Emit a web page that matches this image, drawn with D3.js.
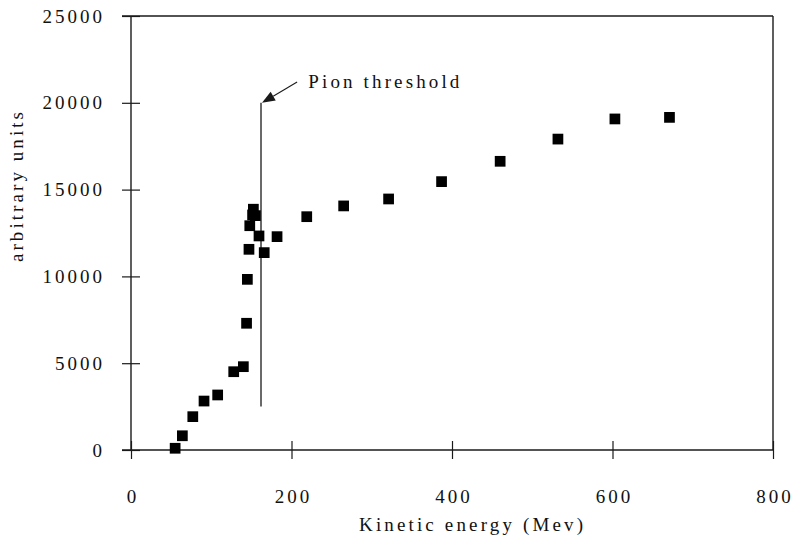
<!DOCTYPE html>
<html>
<head>
<meta charset="utf-8">
<script src="https://cdn.jsdelivr.net/npm/d3@7"></script>
<style>
  html, body { margin: 0; padding: 0; background: #fff; }
  svg { display: block; }
  text { font-family: "Liberation Serif", "Times New Roman", serif; fill: #111; }
</style>
</head>
<body>
<svg id="chart" width="793" height="540"></svg>
<script>
// Measured yield versus kinetic energy (MeV)
const energy = [55, 64, 77, 91, 108, 128, 140, 144, 145, 147, 148, 151.5, 152.5, 155, 159.5, 166, 182, 219, 265, 321, 387, 460, 532, 603, 671];
const counts = [100, 820, 1920, 2820, 3170, 4510, 4800, 7300, 9830, 11560, 12920, 13540, 13870, 13500, 12330, 11370, 12290, 13440, 14060, 14460, 15460, 16630, 17910, 19070, 19160];

const xTicks = [0, 200, 400, 600, 800];
const yTicks = [0, 5000, 10000, 15000, 20000, 25000];

// Threshold marker and its annotation (data units)
const thresholdEnergy = 162;
const thresholdRange = [2500, 20000];
const arrowFrom = [207, 21200];
const labelText = "Pion threshold";
const labelAt = [221, 20870];

const svg = d3.select("#chart");
const plotLeft = 131, plotRight = 773, plotTop = 16, plotBottom = 450;
const ink = "#1a1a1a";

const x = d3.scaleLinear().domain([0, 800]).range([plotLeft, plotRight]);
const y = d3.scaleLinear().domain([0, 25000]).range([plotBottom, plotTop]);

// Frame: top and right edges
svg.append("line").attr("x1", plotLeft - 9).attr("x2", plotRight).attr("y1", plotTop).attr("y2", plotTop)
  .attr("stroke", ink).attr("stroke-width", 1.4);
svg.append("line").attr("x1", plotRight).attr("x2", plotRight).attr("y1", plotTop).attr("y2", plotBottom)
  .attr("stroke", ink).attr("stroke-width", 1.4);

// Y axis
const yAxis = svg.append("g").attr("transform", `translate(${plotLeft},0)`)
  .call(d3.axisLeft(y).tickValues(yTicks).tickSize(9).tickPadding(17).tickFormat(d3.format("d")));
yAxis.select(".domain").attr("stroke", ink).attr("stroke-width", 1.4).attr("d", `M0,${plotTop}V${plotBottom}`);
yAxis.selectAll(".tick line").attr("x1", 9).attr("stroke", ink).attr("stroke-width", 1.2);
yAxis.selectAll(".tick text").attr("font-size", 19).attr("letter-spacing", 3)
  .attr("font-family", "Liberation Serif").attr("fill", "#111");

// X axis
const xAxis = svg.append("g").attr("transform", `translate(0,${plotBottom})`)
  .call(d3.axisBottom(x).tickValues(xTicks).tickSize(9).tickPadding(31).tickFormat(d3.format("d")));
xAxis.select(".domain").attr("stroke", ink).attr("stroke-width", 1.4).attr("d", `M${plotLeft - 9},0H${plotRight}`);
xAxis.selectAll(".tick line").attr("y1", -9).attr("stroke", ink).attr("stroke-width", 1.2);
xAxis.selectAll(".tick text").attr("font-size", 19).attr("letter-spacing", 3)
  .attr("font-family", "Liberation Serif").attr("fill", "#111").attr("dx", 1.5);

// Axis titles
svg.append("text").attr("x", 359).attr("y", 531)
  .attr("font-size", 19).attr("textLength", 224).attr("lengthAdjust", "spacing")
  .text("Kinetic energy (Mev)");
svg.append("text").attr("transform", "translate(23,262) rotate(-90)")
  .attr("font-size", 19).attr("textLength", 150).attr("lengthAdjust", "spacing")
  .text("arbitrary units");

// Threshold line
svg.append("line")
  .attr("x1", x(thresholdEnergy)).attr("x2", x(thresholdEnergy))
  .attr("y1", y(thresholdRange[0])).attr("y2", y(thresholdRange[1]))
  .attr("stroke", ink).attr("stroke-width", 1.3);

// Arrow pointing at the top of the threshold line
const ax0 = x(arrowFrom[0]), ay0 = y(arrowFrom[1]);
const ax1 = x(thresholdEnergy) + 1, ay1 = y(thresholdRange[1]);
const ang = Math.atan2(ay1 - ay0, ax1 - ax0);
const headLen = 13, headHalf = 5;
const bx = ax1 - headLen * Math.cos(ang), by = ay1 - headLen * Math.sin(ang);
svg.append("line").attr("x1", ax0).attr("y1", ay0).attr("x2", bx).attr("y2", by)
  .attr("stroke", ink).attr("stroke-width", 1.1);
svg.append("path")
  .attr("d", `M${ax1},${ay1}L${bx - headHalf * Math.sin(ang)},${by + headHalf * Math.cos(ang)}L${bx + headHalf * Math.sin(ang)},${by - headHalf * Math.cos(ang)}Z`)
  .attr("fill", ink);

svg.append("text").attr("x", x(labelAt[0])).attr("y", y(labelAt[1]))
  .attr("font-size", 19).attr("textLength", 151).attr("lengthAdjust", "spacing")
  .text(labelText);

// Data points as filled squares
const pts = energy.map((e, i) => [e, counts[i]]);
svg.append("g").selectAll("path").data(pts).join("path")
  .attr("transform", d => `translate(${x(d[0])},${y(d[1])})`)
  .attr("d", d3.symbol(d3.symbolSquare, 115))
  .attr("fill", "#000");
</script>
</body>
</html>
